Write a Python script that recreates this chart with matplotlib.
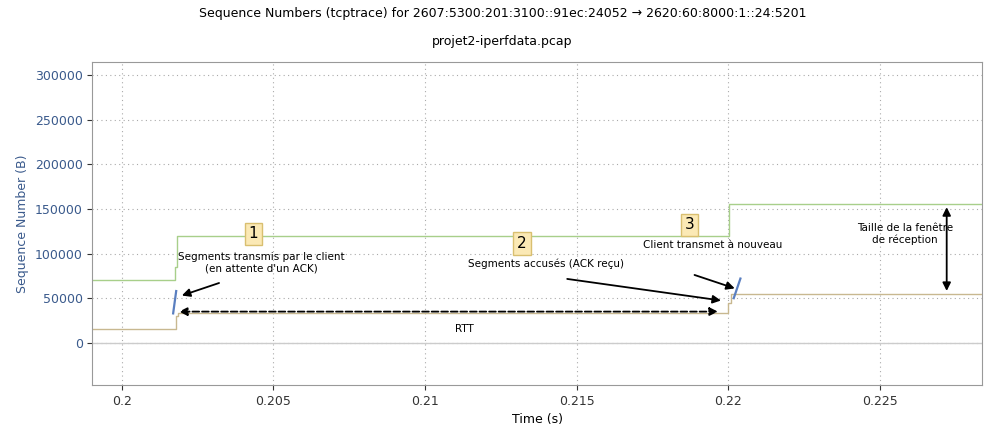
import numpy as np
import matplotlib.pyplot as plt

# window (upper) and ack (lower) step lines
win_t = [0.1990, 0.20172, 0.20175, 0.20182, 0.22000, 0.22003, 0.2284]
win_y = [70000, 70000, 85000, 120000, 120000, 155000, 155000]
ack_t = [0.1990, 0.20170, 0.20178, 0.20185, 0.21990, 0.22000, 0.22010, 0.2284]
ack_y = [15000, 15000, 30000, 33000, 33000, 45000, 55000, 55000]
seg1_t = [0.20170, 0.20180]
seg1_y = [33000, 58000]
seg2_t = [0.22018, 0.22040]
seg2_y = [50000, 72000]

fig, ax = plt.subplots(figsize=(10.05, 4.30), dpi=100)
fig.subplots_adjust(left=0.092, right=0.977, top=0.856, bottom=0.105)
ax.axhline(0, color='#cccccc', lw=1)
ax.step(win_t, win_y, where='post', color='#a8cf8a', lw=1)
ax.step(ack_t, ack_y, where='post', color='#c8b890', lw=1)
ax.plot(seg1_t, seg1_y, color='#5a7fc0', lw=1.6)
ax.plot(seg2_t, seg2_y, color='#5a7fc0', lw=1.6)

ax.set_xlim(0.19904, 0.22836)
ax.set_ylim(-47000, 314500)
ax.set_xticks([0.2, 0.205, 0.21, 0.215, 0.22, 0.225])
ax.set_xticklabels(['0.2', '0.205', '0.21', '0.215', '0.22', '0.225'])
ax.set_yticks([0, 50000, 100000, 150000, 200000, 250000, 300000])
ax.grid(True, linestyle=(0, (1, 3)), color='#aaaaaa', lw=0.8)
ax.tick_params(labelsize=9, colors='#333333')
for lbl in ax.get_yticklabels():
    lbl.set_color('#3a5a8c')
ax.set_xlabel('Time (s)', fontsize=9)
ax.set_ylabel('Sequence Number (B)', fontsize=9, color='#3a5a8c')
for s in ax.spines.values():
    s.set_color('#999999')

fig.text(0.5, 0.96, 'Sequence Numbers (tcptrace) for 2607:5300:201:3100::91ec:24052 \u2192 2620:60:8000:1::24:5201',
         ha='center', fontsize=9)
fig.text(0.5, 0.895, 'projet2-iperfdata.pcap', ha='center', fontsize=9)

box = dict(boxstyle='square,pad=0.25', fc='#fbe9b5', ec='#d9bf70')
ax.text(0.20435, 122000, '1', fontsize=11, ha='center', va='center', bbox=box)
ax.text(0.21320, 111000, '2', fontsize=11, ha='center', va='center', bbox=box)
ax.text(0.21873, 132000, '3', fontsize=11, ha='center', va='center', bbox=box)

ax.text(0.2046, 90000, "Segments transmis par le client\n(en attente d'un ACK)", fontsize=7.5, ha='center', va='center')
ax.text(0.2140, 89000, 'Segments accus\u00e9s (ACK re\u00e7u)', fontsize=7.5, ha='center', va='center')
ax.text(0.2195, 109000, 'Client transmet \u00e0 nouveau', fontsize=7.5, ha='center', va='center')
ax.text(0.22582, 122000, 'Taille de la fen\u00eatre\nde r\u00e9ception', fontsize=7.5, ha='center', va='center')
ax.text(0.2113, 16000, 'RTT', fontsize=7.5, ha='center', va='center')

arr = dict(arrowstyle='-|>', color='black', lw=1.3, mutation_scale=12)
ax.annotate('', xy=(0.20190, 52000), xytext=(0.20330, 68000), arrowprops=arr)
ax.annotate('', xy=(0.21985, 47000), xytext=(0.21460, 72000), arrowprops=arr)
ax.annotate('', xy=(0.22030, 60000), xytext=(0.21880, 77000), arrowprops=arr)
ax.annotate('', xy=(0.20180, 35000), xytext=(0.21975, 35000),
            arrowprops=dict(arrowstyle='<|-|>', color='black', lw=1.3, ls='--', mutation_scale=12))
ax.annotate('', xy=(0.2272, 155000), xytext=(0.2272, 55000),
            arrowprops=dict(arrowstyle='<|-|>', color='black', lw=1.3, mutation_scale=12))

fig.savefig('out.png')
